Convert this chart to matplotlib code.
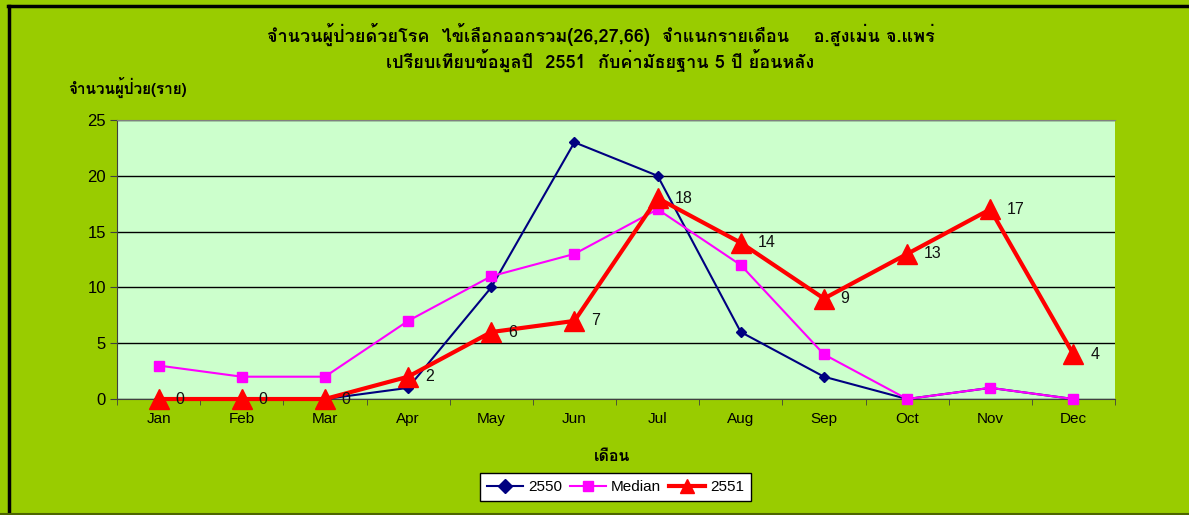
import matplotlib
matplotlib.use('Agg')
import matplotlib.pyplot as plt
from matplotlib import font_manager
from matplotlib.ft2font import FT2Font
from matplotlib.lines import Line2D

months = ['Jan', 'Feb', 'Mar', 'Apr', 'May', 'Jun', 'Jul', 'Aug', 'Sep', 'Oct', 'Nov', 'Dec']
y2550 = [0, 0, 0, 1, 10, 23, 20, 6, 2, 0, 1, 0]
median = [3, 2, 2, 7, 11, 13, 17, 12, 4, 0, 1, 0]
y2551 = [0, 0, 0, 2, 6, 7, 18, 14, 9, 13, 17, 4]

title = ('จำนวนผู้ป่วยด้วยโรค  ไข้เลือกออกรวม(26,27,66)  จำแนกรายเดือน    อ.สูงเม่น จ.แพร่\n'
         'เปรียบเทียบข้อมูลปี  2551  กับค่ามัธยฐาน 5 ปี ย้อนหลัง')
ylabel = 'จำนวนผู้ป่วย(ราย)'
xlabel = 'เดือน'


def thai_font():
    # look for any installed font that has Thai glyphs
    for f in font_manager.fontManager.ttflist:
        try:
            if 0x0E08 in FT2Font(f.fname).get_charmap():
                return f.name
        except Exception:
            continue
    return 'DejaVu Sans'


thai = thai_font()
plt.rcParams['font.family'] = ['Liberation Sans', 'DejaVu Sans']

fig = plt.figure(figsize=(11.89, 5.15), dpi=100)
fig.patch.set_facecolor('#99CC00')
ax = fig.add_axes([0.0984, 0.2252, 0.8394, 0.5418])
ax.set_facecolor('#CCFFCC')

styles = {
    '2550': dict(color='#000080', lw=1.5, marker='D', ms=5),
    'Median': dict(color='#FF00FF', lw=1.5, marker='s', ms=7),
    '2551': dict(color='#FF0000', lw=3, marker='^', ms=15),
}

x = list(range(len(months)))
ax.plot(x, y2550, zorder=3, clip_on=False, **styles['2550'])
ax.plot(x, median, zorder=4, clip_on=False, **styles['Median'])
ax.plot(x, y2551, zorder=5, clip_on=False, **styles['2551'])

for i, v in enumerate(y2551):
    ax.annotate(str(v), (i, v), xytext=(12, 0), textcoords='offset points',
                ha='left', va='center', fontsize=11.5, color='#111111', zorder=6)

ax.set_xlim(-0.5, 11.5)
ax.set_ylim(0, 25)
ax.set_yticks(range(0, 26, 5))
ax.set_xticks(x)
ax.set_xticklabels(months)
ax.set_xticks([i - 0.5 for i in range(13)], minor=True)
ax.tick_params(axis='x', which='major', length=0, pad=9, labelsize=11)
ax.tick_params(axis='x', which='minor', length=4, color='#404040')
ax.tick_params(axis='y', length=5, labelsize=12, color='#404040', pad=3)
ax.grid(axis='y', color='black', lw=1)
ax.set_axisbelow(True)
for s in ax.spines.values():
    s.set_color('#808080')
ax.spines['right'].set_visible(False)
ax.spines['left'].set_color('#404040')
ax.spines['bottom'].set_color('#404040')

fig.text(0.505, 0.908, title, ha='center', va='center', fontsize=13, fontweight='bold',
         family=[thai, 'DejaVu Sans'], linespacing=1.15)
fig.text(0.057, 0.831, ylabel, ha='left', va='center', fontsize=11, fontweight='bold',
         family=[thai, 'DejaVu Sans'])
fig.text(0.515, 0.113, xlabel, ha='center', va='center', fontsize=11.5, fontweight='bold',
         family=[thai, 'DejaVu Sans'])

# legend markers are drawn smaller than on the lines
handles = []
for name, ms in [('2550', 7), ('Median', 7), ('2551', 10)]:
    st = dict(styles[name])
    st['ms'] = ms
    handles.append(Line2D([], [], label=name, **st))
leg = ax.legend(handles=handles, loc='center', bbox_to_anchor=(0.5175, 0.054),
                bbox_transform=fig.transFigure, ncol=3, frameon=True, fancybox=False,
                fontsize=11, handlelength=2.4, columnspacing=0.5, handletextpad=0.3,
                borderpad=0.45, borderaxespad=0)
leg.get_frame().set_edgecolor('black')
leg.get_frame().set_facecolor('white')
leg.get_frame().set_alpha(1)

# figure border
fig.add_artist(Line2D([0.0075, 0.0075], [0, 0.988], color='black', lw=2.5, transform=fig.transFigure))
fig.add_artist(Line2D([0.0065, 1], [0.988, 0.988], color='black', lw=2.5, transform=fig.transFigure))
fig.add_artist(Line2D([0, 1], [0.001, 0.001], color='#4d6600', lw=1.5, transform=fig.transFigure))

fig.savefig('out.png', dpi=100, facecolor=fig.get_facecolor())
